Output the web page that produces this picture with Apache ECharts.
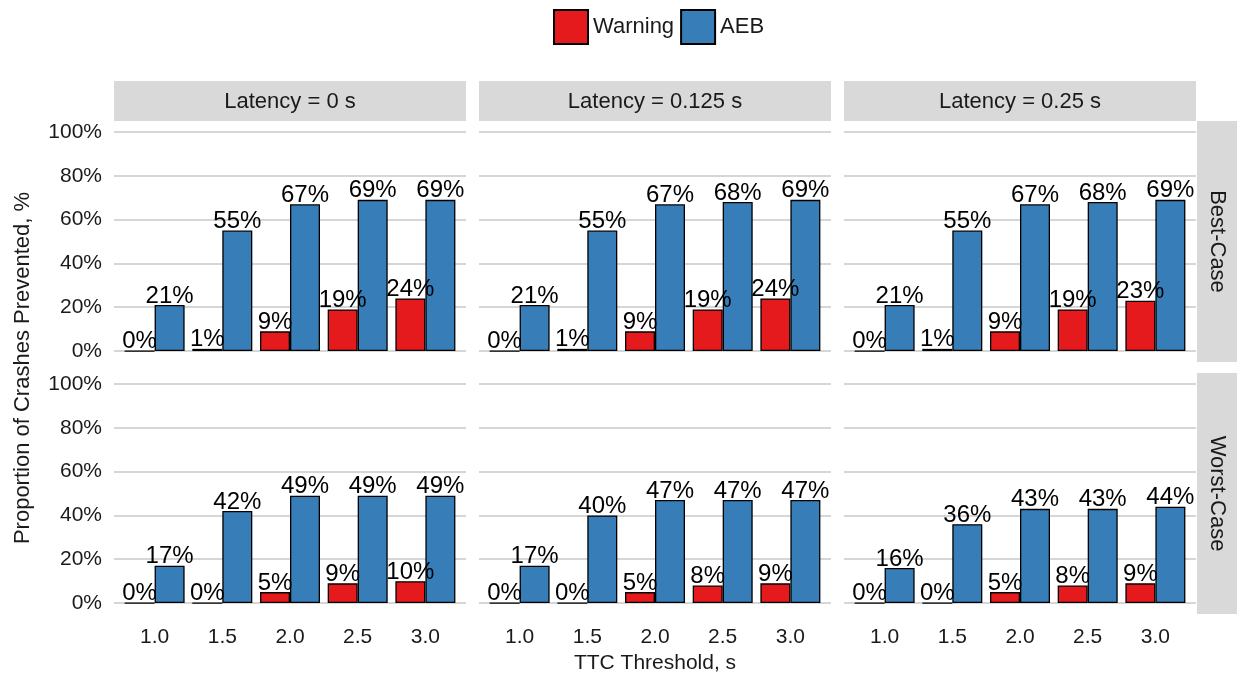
<!DOCTYPE html>
<html>
<head>
<meta charset="utf-8">
<script src="https://cdn.jsdelivr.net/npm/echarts@6/dist/echarts.min.js"></script>
<style>
  html, body { margin: 0; padding: 0; background: #fff; }
  #chart { width: 1238px; height: 677px; }
</style>
</head>
<body>
<div id="chart"></div>
<script>
// TTC thresholds (s) shown on the x axis
const ttc = ['1.0', '1.5', '2.0', '2.5', '3.0'];
// Facet labels
const latencies = ['Latency = 0 s', 'Latency = 0.125 s', 'Latency = 0.25 s'];
const scenarios = ['Best-Case', 'Worst-Case'];
const yTicks = [0, 20, 40, 60, 80, 100];

// Percent of crashes prevented, one array per latency column
const warningBest = [
  [0, 1, 9, 19, 24],
  [0, 1, 9, 19, 24],
  [0, 1, 9, 19, 23]
];
const aebBest = [
  [21, 55, 67, 69, 69],
  [21, 55, 67, 68, 69],
  [21, 55, 67, 68, 69]
];
const warningWorst = [
  [0, 0, 5, 9, 10],
  [0, 0, 5, 8, 9],
  [0, 0, 5, 8, 9]
];
const aebWorst = [
  [17, 42, 49, 49, 49],
  [17, 40, 47, 47, 47],
  [16, 36, 43, 43, 44]
];

const RED = '#E41A1C';
const BLUE = '#377EB8';
const FONT = 'Liberation Sans, Arial, sans-serif';
const TXT = '#1a1a1a';

const colLeft = [114, 479, 844];
const panelW = 352;
const rowTop = [121, 373];
const panelH = 241;

const chart = echarts.init(document.getElementById('chart'));

const grids = [], xAxes = [], yAxes = [], series = [], graphics = [];

const rows = [
  { warn: warningBest, aeb: aebBest },
  { warn: warningWorst, aeb: aebWorst }
];

let idx = 0;
rows.forEach((row, r) => {
  for (let c = 0; c < 3; c++) {
    grids.push({ left: colLeft[c], top: rowTop[r], width: panelW, height: panelH, containLabel: false });
    xAxes.push({
      type: 'value', gridIndex: idx, min: 0.7, max: 3.3,
      axisLine: { show: false },
      axisTick: { show: false, customValues: ttc.map(Number) },
      splitLine: { show: false },
      axisLabel: {
        show: r === 1, customValues: ttc.map(Number),
        formatter: v => v.toFixed(1),
        fontSize: 21, fontFamily: FONT, color: TXT, margin: 13
      }
    });
    yAxes.push({
      type: 'value', gridIndex: idx, min: -5, max: 105,
      axisLine: { show: false },
      axisTick: { show: false, customValues: yTicks },
      splitLine: { show: true, customValues: yTicks, lineStyle: { color: '#c8c8c8', width: 1.5 } },
      axisLabel: {
        show: c === 0, customValues: yTicks,
        formatter: v => v + '%',
        fontSize: 21, fontFamily: FONT, color: TXT, margin: 12
      }
    });
    const mk = (name, vals, color) => ({
      name, type: 'bar', xAxisIndex: idx, yAxisIndex: idx,
      data: vals.map((v, i) => [Number(ttc[i]), v]),
      barWidth: 30, barGap: '0%',
      itemStyle: { color, borderColor: '#000', borderWidth: 1.3 },
      label: {
        show: true, position: 'top', distance: 0, offset: [0, 3],
        formatter: p => p.value[1] + '%',
        fontSize: 24, fontFamily: FONT, color: '#000'
      },
      emphasis: { disabled: true }
    });
    series.push(mk('Warning', row.warn[c], RED));
    series.push(mk('AEB', row.aeb[c], BLUE));
    idx++;
  }
});

// Column strips
latencies.forEach((t, c) => {
  graphics.push({ type: 'rect', shape: { x: colLeft[c], y: 81, width: panelW, height: 40 }, style: { fill: '#d9d9d9' }, z: 0 });
  graphics.push({ type: 'text', x: colLeft[c] + panelW / 2, y: 102,
    style: { text: t, fontSize: 22, fontFamily: FONT, fill: TXT, align: 'center', verticalAlign: 'middle' } });
});
// Row strips
scenarios.forEach((t, r) => {
  graphics.push({ type: 'rect', shape: { x: 1197, y: rowTop[r], width: 40, height: panelH }, style: { fill: '#d9d9d9' }, z: 0 });
  graphics.push({ type: 'text', x: 1217, y: rowTop[r] + panelH / 2, rotation: -Math.PI / 2,
    style: { text: t, fontSize: 22, fontFamily: FONT, fill: TXT, align: 'center', verticalAlign: 'middle' } });
});
// Axis titles
graphics.push({ type: 'text', x: 655, y: 663,
  style: { text: 'TTC Threshold, s', fontSize: 21, fontFamily: FONT, fill: TXT, align: 'center', verticalAlign: 'middle' } });
graphics.push({ type: 'text', x: 23, y: 368, rotation: Math.PI / 2,
  style: { text: 'Proportion of Crashes Prevented, %', fontSize: 22, fontFamily: FONT, fill: TXT, align: 'center', verticalAlign: 'middle' } });

chart.setOption({
  animation: false,
  backgroundColor: '#fff',
  legend: {
    data: ['Warning', 'AEB'], left: 548, top: 4,
    itemWidth: 34, itemHeight: 34, itemGap: 6, icon: 'rect',
    textStyle: { fontSize: 22, fontFamily: FONT, color: TXT },
    selectedMode: false
  },
  grid: grids, xAxis: xAxes, yAxis: yAxes, series: series,
  graphic: graphics
});
</script>
</body>
</html>
